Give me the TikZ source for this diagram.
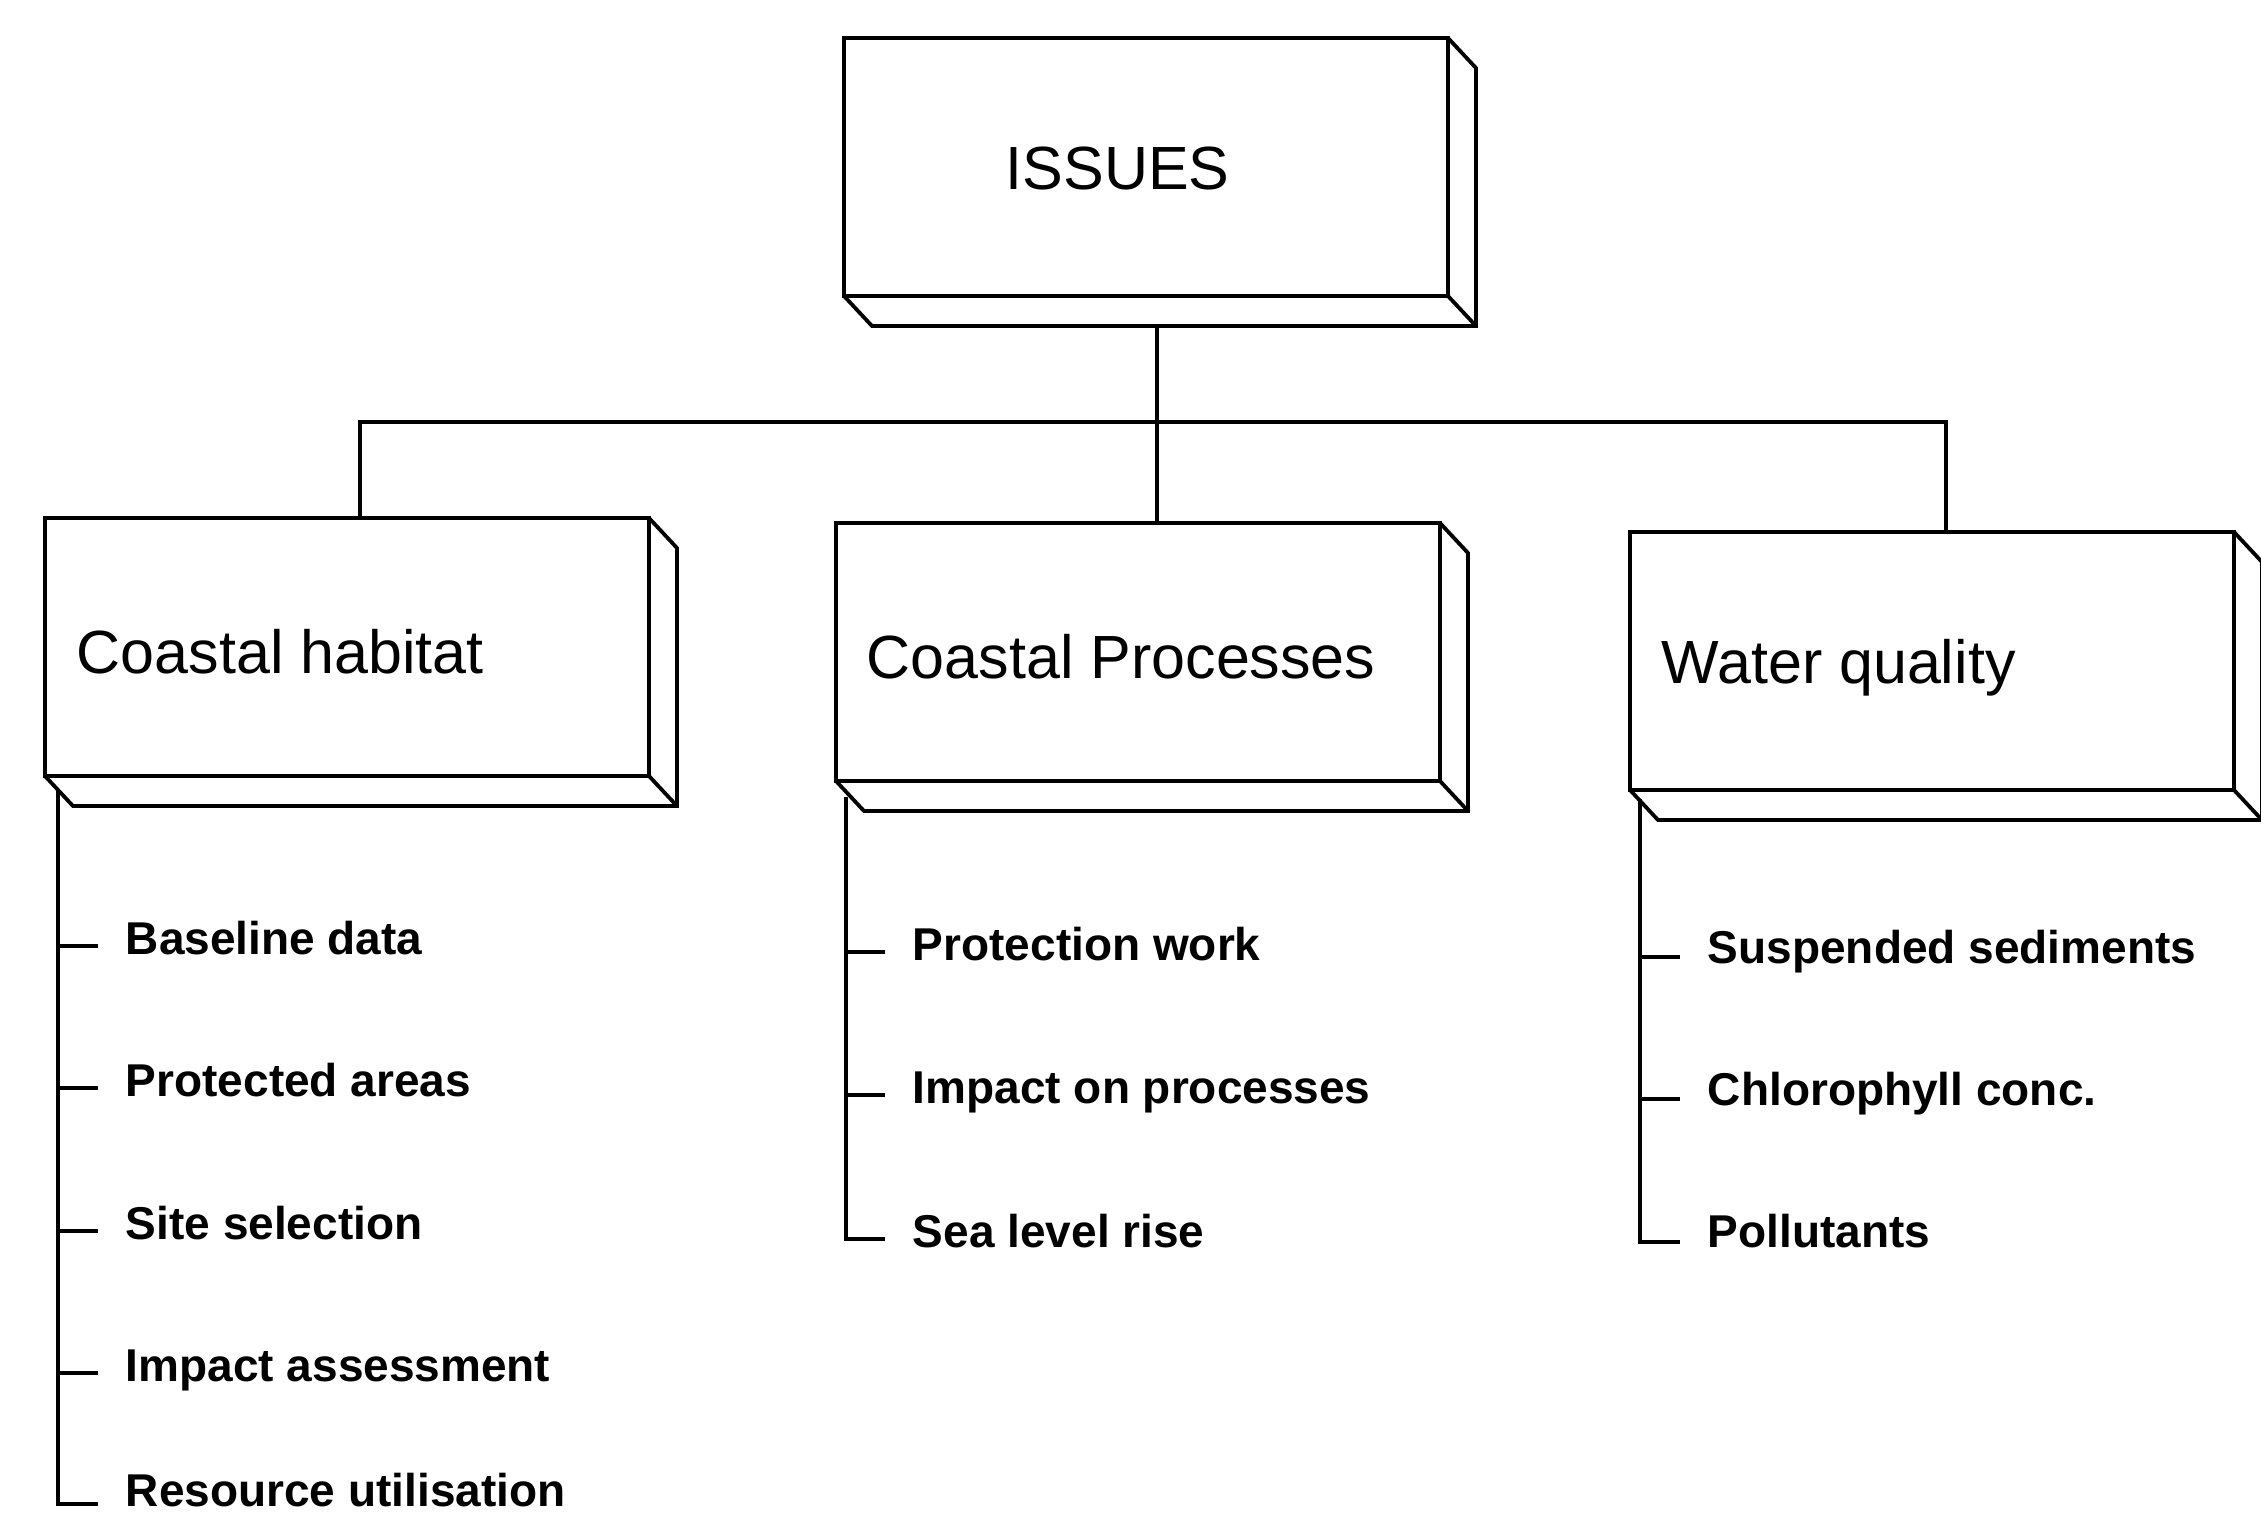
\documentclass[tikz,border=0pt]{standalone}
\usepackage{fontspec}
\setmainfont{Liberation Sans}
\usetikzlibrary{calc}
\newcommand\extrudebox[1]{%
  \draw (#1.north east) -- ++(28,30) -- ($(#1.south east)+(28,30)$) -- ($(#1.south west)+(28,30)$) -- (#1.south west);
  \draw (#1.south east) -- ++(28,30);}
\begin{document}
\begin{tikzpicture}[x=0.5pt,y=-0.5pt, line width=1.9pt, line join=miter,
  box/.style={draw, rectangle, inner sep=0pt, outer sep=0pt, minimum width=302pt, minimum height=129pt, anchor=north west},
  title/.style={font=\fontsize{30.5}{36}\selectfont, inner sep=0pt, anchor=base west},
  item/.style={font=\bfseries\fontsize{23}{27}\selectfont, inner sep=0pt, anchor=base west},
  tick/.style={line width=1.6pt}]
\useasboundingbox (0,0) rectangle (2261,1521);

% boxes
\node[box] (issues) at (844,38) {};
\node[box] (ch) at (45,518) {};
\node[box] (cp) at (836,523) {};
\node[box] (wq) at (1630,532) {};
\extrudebox{issues}
\extrudebox{ch}
\extrudebox{cp}
\extrudebox{wq}

% titles
\node[title] (tIssues) at (1004,189) {ISSUES};
\node[title] (tCH) at (75,673) {Coastal habitat};
\node[title] (tCP) at (865,678) {Coastal Processes};
\node[title] (tWQ) at (1660,683) {Water quality};

% connectors between boxes
\coordinate (jI) at (1157,326);
\coordinate (busL) at (360,422);
\coordinate (busR) at (1946,422);
\draw (jI) -- (jI |- cp.north);
\draw (ch.north -| busL) -- (busL) -- (busR) -- (wq.north -| busR);

% items
\node[item] (bd) at (124,954) {Baseline data};
\node[item] (pa) at (124,1096) {Protected areas};
\node[item] (ss) at (124,1239) {Site selection};
\node[item] (ia) at (124,1381) {Impact assessment};
\node[item] (ru) at (124,1506) {Resource utilisation};

\node[item] (pw) at (911,960) {Protection work};
\node[item] (ip) at (911,1103) {Impact on processes};
\node[item] (sl) at (911,1247) {Sea level rise};

\node[item] (sd) at (1706,963) {Suspended sediments};
\node[item] (cc) at (1706,1105) {Chlorophyll conc.};
\node[item] (po) at (1706,1247) {Pollutants};

% list lines
\coordinate (chl) at (58,790);
\coordinate (cpl) at (846,797);
\coordinate (wql) at (1640,799);
\draw[tick] (chl) -- ([yshift=1pt]ru.base west -| chl) -- ([xshift=-13pt,yshift=1pt]ru.base west);
\foreach \n in {bd,pa,ss,ia}
  \draw[tick] ([yshift=4pt]\n.base west -| chl) -- ([xshift=-13pt,yshift=4pt]\n.base west);
\draw[tick] (cpl) -- ([yshift=4pt]sl.base west -| cpl) -- ([xshift=-13pt,yshift=4pt]sl.base west);
\foreach \n in {pw,ip}
  \draw[tick] ([yshift=4pt]\n.base west -| cpl) -- ([xshift=-13pt,yshift=4pt]\n.base west);
\draw[tick] (wql) -- ([yshift=2.5pt]po.base west -| wql) -- ([xshift=-13pt,yshift=2.5pt]po.base west);
\foreach \n in {sd,cc}
  \draw[tick] ([yshift=3pt]\n.base west -| wql) -- ([xshift=-13pt,yshift=3pt]\n.base west);
\end{tikzpicture}
\end{document}
